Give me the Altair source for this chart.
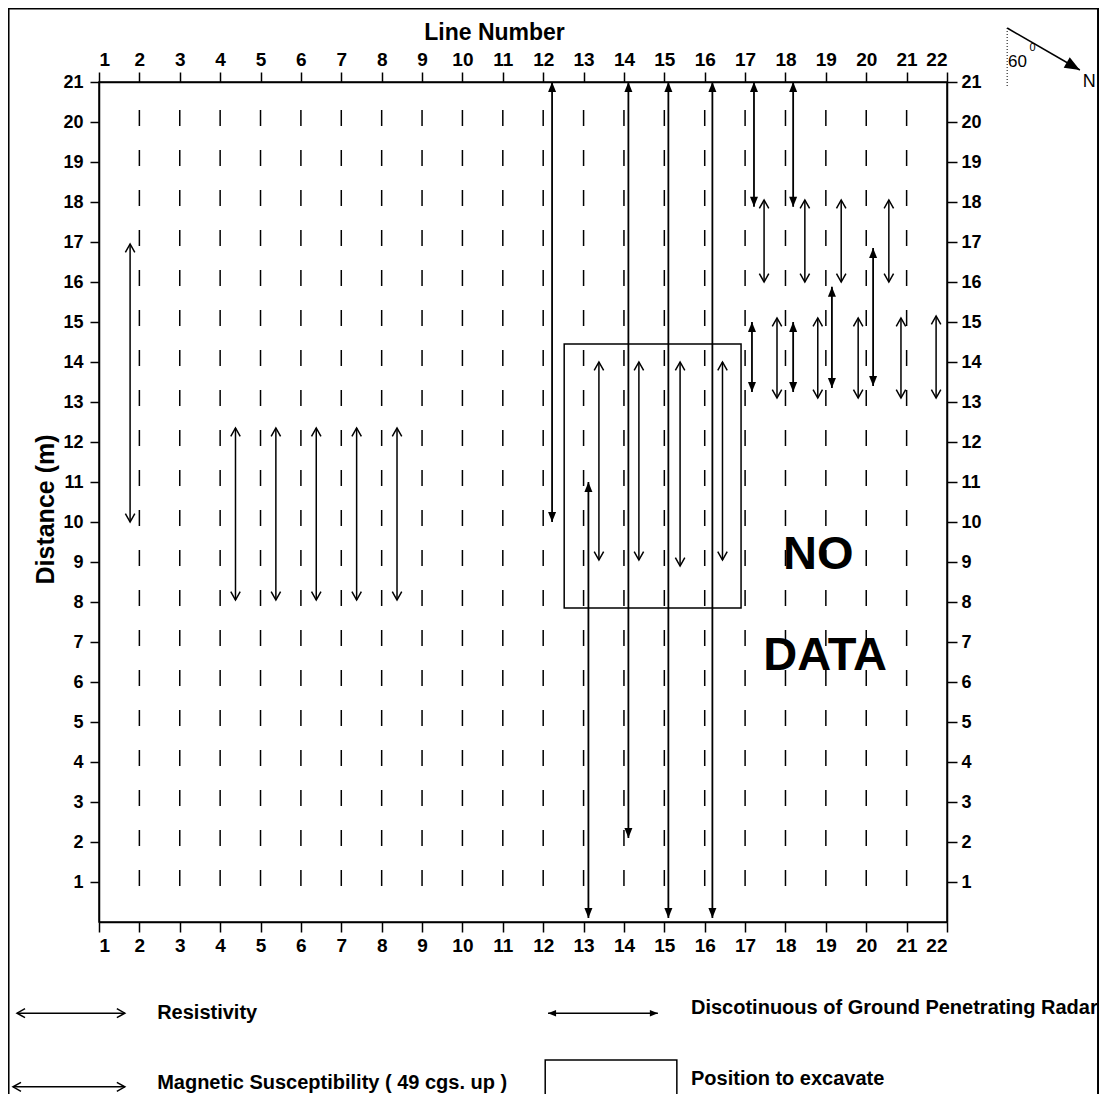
import altair as alt
import pandas as pd

FONT = "Liberation Sans, Arial, Helvetica, sans-serif"

# ---------------- data ----------------
line_numbers = list(range(1, 23))
distance_ticks = list(range(1, 22))
survey_lines = list(range(2, 22))
survey_top = 20.3
survey_bottom = 0.7

# Resistivity / magnetic anomalies (open heads)
res_line = [1.77, 4.38, 5.38, 6.38, 7.38, 8.38, 13.38, 14.37, 15.39, 16.44,
            17.47, 18.48, 19.38, 20.56, 17.79, 18.80, 19.80, 20.86, 21.73]
res_from = [16.95, 12.35, 12.35, 12.35, 12.35, 12.35, 14.0, 14.0, 14.0, 14.0,
            18.05, 18.05, 18.05, 18.05, 15.1, 15.1, 15.1, 15.1, 15.15]
res_to = [10.0, 8.05, 8.05, 8.05, 8.05, 8.05, 9.05, 9.05, 8.9, 9.05,
          16.0, 16.0, 16.0, 16.0, 13.1, 13.1, 13.1, 13.1, 13.1]

# Discontinuity of GPR (filled heads)
gpr_line = [12.22, 13.12, 14.11, 15.10, 16.19, 17.22, 18.19, 17.17, 18.19, 19.15, 20.17]
gpr_from = [21.0, 11.0, 21.0, 21.0, 21.0, 21.0, 21.0, 15.0, 15.0, 15.88, 16.85]
gpr_to = [10.0, 0.1, 2.1, 0.1, 0.1, 17.88, 17.88, 13.25, 13.25, 13.35, 13.4]

excavate_x = [12.52, 16.90]
excavate_y = [7.85, 14.45]

no_data_text = ["NO", "DATA"]
no_data_x = [18.81, 18.98]
no_data_y = [9.18, 6.65]

legend_labels = ["Resistivity", "Magnetic Susceptibility ( 49 cgs. up )",
                 "Discotinuous of Ground Penetrating Radar", "Position to excavate"]
legend_label_x = [2.44, 2.44, 15.66, 15.66]
legend_label_y = [-2.28, -4.03, -2.15, -3.92]

legend_open_x1 = [-1.03, -1.13]
legend_open_x2 = [1.64, 1.64]
legend_open_y = [-2.28, -4.12]
legend_gpr_x1 = [12.12]
legend_gpr_x2 = [14.84]
legend_gpr_y = [-2.28]
legend_box_x = [12.05, 15.31]
legend_box_y = [-3.45, -5.5]

compass_start = [23.49, 22.35]
compass_tip = [25.29, 21.30]
compass_ref_bottom = 20.88
compass_angle_text = ["60", "0", "N"]
compass_text_x = [23.51, 24.04, 25.36]
compass_text_y = [21.37, 21.78, 20.88]
compass_text_size = [17, 11, 18]

frame_x = [-1.24, 25.74]
frame_y = [22.84, -5.5]

# ---------------- shapes ----------------
UP_TRI = "M0,0L-0.8,2L0.8,2Z"
DOWN_TRI = "M0,0L-0.8,-2L0.8,-2Z"
LEFT_TRI = "M0,0L2,-0.8L2,0.8Z"
RIGHT_TRI = "M0,0L-2,-0.8L-2,0.8Z"
UP_OPEN = "M-0.9,1.6L0,0L0.9,1.6"
DOWN_OPEN = "M-0.9,-1.6L0,0L0.9,-1.6"
LEFT_OPEN = "M1.6,-0.9L0,0L1.6,0.9"
RIGHT_OPEN = "M-1.6,-0.9L0,0L-1.6,0.9"

xs = alt.Scale(domain=[1, 22], nice=False, zero=False)
ys = alt.Scale(domain=[0, 21], nice=False, zero=False)

def X(field, axis=None):
    return alt.X(field, type="quantitative", scale=xs, axis=axis)

def Y(field, axis=None):
    return alt.Y(field, type="quantitative", scale=ys, axis=axis)

axis_common = dict(labelFont=FONT, labelFontWeight="bold", labelColor="black",
                   tickColor="black", tickWidth=1.5, domain=True, domainColor="black",
                   domainWidth=1.5, grid=False)

bottom_axis = alt.Axis(orient="bottom", values=line_numbers, format="d", title=None,
                       labelFontSize=19, tickSize=10, labelPadding=4, **axis_common)
top_axis = alt.Axis(orient="top", values=line_numbers, format="d", title="Line Number",
                    titleFont=FONT, titleFontSize=23, titleFontWeight="bold", titleColor="black",
                    titleX=395, titleY=-50, titleAlign="center", titleBaseline="middle",
                    labelFontSize=19, tickSize=10, labelPadding=3, **axis_common)
left_axis = alt.Axis(orient="left", values=distance_ticks, format="d", title="Distance (m)",
                     titleFont=FONT, titleFontSize=25, titleFontWeight="bold", titleColor="black",
                     titleX=-54, titleY=427, titleAlign="center", titleBaseline="middle", titleAngle=270,
                     labelFontSize=18, tickSize=9, labelPadding=7, **axis_common)
right_axis = alt.Axis(orient="right", values=distance_ticks, format="d", title=None,
                      labelFontSize=18, tickSize=10, labelPadding=4, **axis_common)

# ---------------- frames ----------------
dash_df = pd.DataFrame({"x": survey_lines, "top": survey_top, "bottom": survey_bottom})
res_df = pd.DataFrame({"x": res_line, "y1": res_from, "y2": res_to})
gpr_df = pd.DataFrame({"x": gpr_line, "y1": gpr_from, "y2": gpr_to})

layers = []

layers.append(alt.Chart(dash_df).mark_rule(color="black", strokeWidth=1.5, strokeDash=[16, 24]).encode(
    x=X("x", bottom_axis), y=Y("top", left_axis), y2="bottom"))

layers.append(alt.Chart(gpr_df).mark_rule(color="black", strokeWidth=1.8).encode(
    x=X("x", top_axis), y=Y("y1", right_axis), y2="y2"))

layers.append(alt.Chart(res_df).mark_rule(color="black", strokeWidth=1.5).encode(
    x=X("x"), y=Y("y1"), y2="y2"))

def heads(df, xf, yf, path, filled, size=100):
    if filled:
        m = alt.Chart(df).mark_point(shape=path, filled=True, color="black", opacity=1, size=size)
    else:
        m = alt.Chart(df).mark_point(shape=path, filled=False, stroke="black", strokeWidth=1.5,
                                     opacity=1, size=size)
    return m.encode(x=X(xf), y=Y(yf))

layers.append(heads(gpr_df, "x", "y1", UP_TRI, True))
layers.append(heads(gpr_df, "x", "y2", DOWN_TRI, True))
layers.append(heads(res_df, "x", "y1", UP_OPEN, False, 110))
layers.append(heads(res_df, "x", "y2", DOWN_OPEN, False, 110))

ex_df = pd.DataFrame({"x1": [excavate_x[0]], "x2": [excavate_x[1]],
                      "y1": [excavate_y[0]], "y2": [excavate_y[1]]})
layers.append(alt.Chart(ex_df).mark_rect(filled=False, stroke="black", strokeWidth=1.5).encode(
    x=X("x1"), x2="x2", y=Y("y1"), y2="y2"))

nd_df = pd.DataFrame({"t": no_data_text, "x": no_data_x, "y": no_data_y})
layers.append(alt.Chart(nd_df).mark_text(font=FONT, fontSize=47, fontWeight="bold", color="black",
                                          align="center", baseline="middle").encode(
    x=X("x"), y=Y("y"), text="t:N"))

# ---------------- legend ----------------
lo_df = pd.DataFrame({"x1": legend_open_x1, "x2": legend_open_x2, "y": legend_open_y})
layers.append(alt.Chart(lo_df).mark_rule(color="black", strokeWidth=1.4).encode(
    x=X("x1"), x2="x2", y=Y("y")))
layers.append(heads(lo_df, "x1", "y", LEFT_OPEN, False))
layers.append(heads(lo_df, "x2", "y", RIGHT_OPEN, False))

lg_df = pd.DataFrame({"x1": legend_gpr_x1, "x2": legend_gpr_x2, "y": legend_gpr_y})
layers.append(alt.Chart(lg_df).mark_rule(color="black", strokeWidth=1.6).encode(
    x=X("x1"), x2="x2", y=Y("y")))
layers.append(heads(lg_df, "x1", "y", LEFT_TRI, True, 64))
layers.append(heads(lg_df, "x2", "y", RIGHT_TRI, True, 64))

lb_df = pd.DataFrame({"x1": [legend_box_x[0]], "x2": [legend_box_x[1]],
                      "y1": [legend_box_y[0]], "y2": [legend_box_y[1]]})
layers.append(alt.Chart(lb_df).mark_rect(filled=False, stroke="black", strokeWidth=1.5).encode(
    x=X("x1"), x2="x2", y=Y("y1"), y2="y2"))

lt_df = pd.DataFrame({"t": legend_labels, "x": legend_label_x, "y": legend_label_y})
layers.append(alt.Chart(lt_df).mark_text(font=FONT, fontSize=20, fontWeight="bold", color="black",
                                          align="left", baseline="middle").encode(
    x=X("x"), y=Y("y"), text="t:N"))

# ---------------- compass ----------------
cref_df = pd.DataFrame({"x": [compass_start[0]], "y1": [compass_start[1]], "y2": [compass_ref_bottom]})
layers.append(alt.Chart(cref_df).mark_rule(color="black", strokeWidth=1, strokeDash=[1, 2]).encode(
    x=X("x"), y=Y("y1"), y2="y2"))
cl_df = pd.DataFrame({"x1": [compass_start[0]], "y1": [compass_start[1]],
                      "x2": [compass_tip[0]], "y2": [compass_tip[1]]})
layers.append(alt.Chart(cl_df).mark_rule(color="black", strokeWidth=1.5).encode(
    x=X("x1"), y=Y("y1"), x2="x2", y2="y2"))
layers.append(alt.Chart(cl_df).mark_point(shape=UP_TRI, angle=120, filled=True, color="black",
                                          opacity=1, size=230).encode(x=X("x2"), y=Y("y2")))
ct_df = pd.DataFrame({"t": compass_angle_text, "x": compass_text_x, "y": compass_text_y,
                      "s": compass_text_size})
layers.append(alt.Chart(ct_df).mark_text(font=FONT, color="black", align="left",
                                          baseline="alphabetic").encode(
    x=X("x"), y=Y("y"), text="t:N", size=alt.Size("s:Q", scale=None)))

# ---------------- outer frame ----------------
fr_df = pd.DataFrame({"x1": [frame_x[0]], "x2": [frame_x[1]], "y1": [frame_y[0]], "y2": [frame_y[1]]})
layers.append(alt.Chart(fr_df).mark_rect(filled=False, stroke="black", strokeWidth=2).encode(
    x=X("x1"), x2="x2", y=Y("y1"), y2="y2"))

chart = alt.layer(*layers).resolve_axis(x="independent", y="independent").properties(
    width=848, height=840,
    padding={"left": 91, "top": 74, "right": 152, "bottom": 172},
    autosize=alt.AutoSizeParams(type="none"),
).configure(background="white").configure_view(stroke="black", strokeWidth=1.5)

chart.save("out.html", embed_options={"renderer": "svg", "actions": False})
